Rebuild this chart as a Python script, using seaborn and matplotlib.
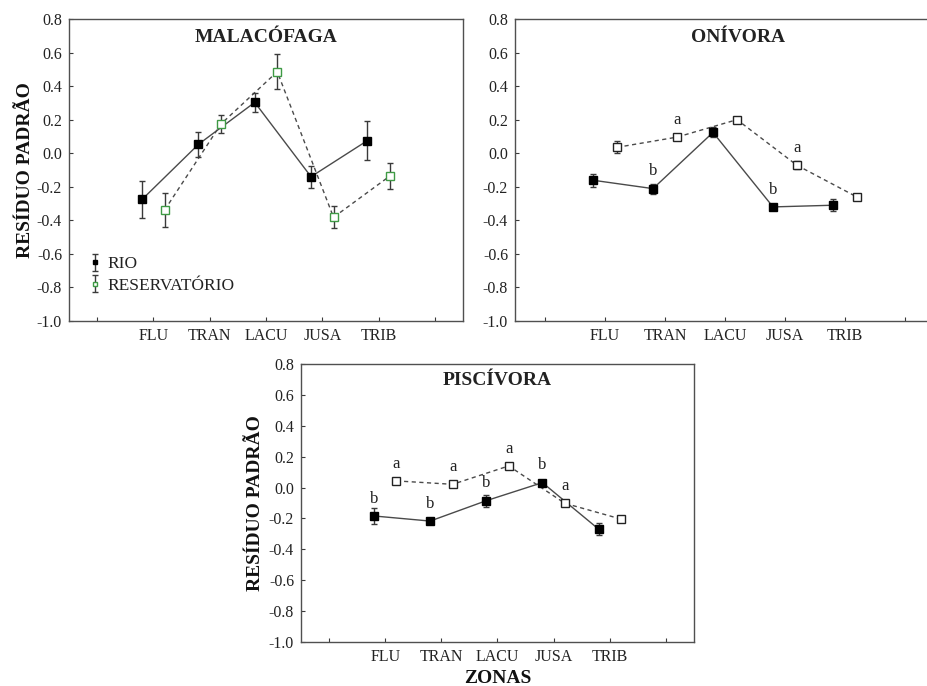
import numpy as np
import pandas as pd
import matplotlib
matplotlib.use("Agg")
import matplotlib.pyplot as plt
import seaborn as sns

# Zones along the reservoir gradient (positions 1..5; 0 and 6 left empty)
zones = ["FLU", "TRAN", "LACU", "JUSA", "TRIB"]
xtick_labels = ["", "FLU", "TRAN", "LACU", "JUSA", "TRIB", ""]
yticks = [-1.0, -0.8, -0.6, -0.4, -0.2, 0.0, 0.2, 0.4, 0.6, 0.8]

# Standardised residuals (mean) and standard errors per trophic guild
mala_rio = [-0.275, 0.053, 0.303, -0.140, 0.075]
mala_rio_err = [0.11, 0.075, 0.057, 0.065, 0.117]
mala_res = [-0.338, 0.174, 0.486, -0.382, -0.136]
mala_res_err = [0.103, 0.055, 0.104, 0.066, 0.077]

oni_rio = [-0.161, -0.211, 0.124, -0.320, -0.310]
oni_rio_err = [0.04, 0.03, 0.03, 0.02, 0.035]
oni_res = [0.035, 0.096, 0.200, -0.072, -0.261]
oni_res_err = [0.035, 0.01, 0.01, 0.025, 0.02]
oni_rio_letters = ["", "b", "", "b", ""]
oni_res_letters = ["", "a", "", "a", ""]

pisc_rio = [-0.184, -0.217, -0.085, 0.032, -0.269]
pisc_rio_err = [0.05, 0.02, 0.04, 0.02, 0.04]
pisc_res = [0.043, 0.021, 0.140, -0.102, -0.204]
pisc_res_err = [0.015, 0.01, 0.01, 0.01, 0.01]
pisc_rio_letters = ["b", "b", "b", "b", ""]
pisc_res_letters = ["a", "a", "a", "a", ""]

sns.set_style("ticks")
plt.rcParams["font.family"] = ["Liberation Serif", "DejaVu Serif"]
plt.rcParams["axes.unicode_minus"] = False

DARK = "#3a3a3a"
LINE = "#4a4a4a"
GREEN = "#3f9a45"

fig = plt.figure(figsize=(9.28, 6.86), dpi=100)
ax1 = fig.add_axes([69 / 928, 1 - 321 / 686, 394 / 928, 302 / 686])
ax2 = fig.add_axes([515 / 928, 1 - 321 / 686, 420 / 928, 302 / 686])
ax3 = fig.add_axes([301 / 928, 1 - 642 / 686, 393 / 928, 278 / 686])

OFFSET = 0.2


def draw_panel(ax, title, rio, rio_err, res, res_err, res_edge,
               rio_letters=None, res_letters=None, title_x=0.5):
    base = np.arange(1, len(zones) + 1)
    df = pd.DataFrame({
        "x": np.concatenate([base - OFFSET, base + OFFSET]),
        "y": rio + res,
        "grupo": ["RIO"] * len(zones) + ["RESERVATÓRIO"] * len(zones),
    })
    d_rio = df[df["grupo"] == "RIO"]
    d_res = df[df["grupo"] == "RESERVATÓRIO"]
    sns.lineplot(data=d_rio, x="x", y="y", ax=ax, color=LINE, lw=1.0,
                 linestyle="-", legend=False, zorder=2)
    sns.lineplot(data=d_res, x="x", y="y", ax=ax, color=LINE, lw=1.0,
                 linestyle=(0, (3, 2.5)), legend=False, zorder=2)
    ax.errorbar(d_rio["x"], d_rio["y"], yerr=rio_err, fmt="s", ms=6,
                mfc="black", mec="black", ecolor=DARK, elinewidth=1,
                capsize=2.5, capthick=1, zorder=3, label="RIO")
    ax.errorbar(d_res["x"], d_res["y"], yerr=res_err, fmt="s", ms=5.5,
                mfc="white", mec=res_edge, mew=1, ecolor=DARK, elinewidth=1,
                capsize=2.5, capthick=1, zorder=3, label="RESERVATÓRIO")

    for letters, xs, ys in ((rio_letters, d_rio["x"], rio),
                            (res_letters, d_res["x"], res)):
        if not letters:
            continue
        for lab, xv, yv in zip(letters, xs, ys):
            if lab:
                ax.annotate(lab, (xv, yv), xytext=(0, 9.5),
                            textcoords="offset points", ha="center",
                            va="baseline", fontsize=12, color="#222222")

    ax.set_xlim(-0.5, 6.5)
    ax.set_ylim(-1.0, 0.8)
    ax.set_xticks(range(7))
    ax.set_xticklabels(xtick_labels)
    ax.set_yticks(yticks)
    ax.set_yticklabels([f"{v:.1f}" for v in yticks])
    ax.tick_params(direction="in", length=3, width=0.8, color=DARK,
                   labelsize=11.5, labelcolor="#222222", pad=5)
    ax.tick_params(axis="x", pad=5)
    for s in ax.spines.values():
        s.set_color("#505050")
        s.set_linewidth(1.0)
        s.set_visible(True)
    ax.set_xlabel("")
    ax.set_ylabel("")
    ax.text(title_x, 0.94, title, transform=ax.transAxes, ha="center",
            va="center", fontsize=14, fontweight="bold", color="#222222")


draw_panel(ax1, "MALACÓFAGA", mala_rio, mala_rio_err, mala_res, mala_res_err,
           GREEN)
draw_panel(ax2, "ONÍVORA", oni_rio, oni_rio_err, oni_res, oni_res_err,
           "#222222", oni_rio_letters, oni_res_letters, title_x=0.53)
draw_panel(ax3, "PISCÍVORA", pisc_rio, pisc_rio_err, pisc_res, pisc_res_err,
           "#222222", pisc_rio_letters, pisc_res_letters)

ax1.set_ylabel("RESÍDUO PADRÃO", fontsize=14, fontweight="bold",
               color="#111111")
ax1.yaxis.set_label_coords(-0.09, 0.5)
ax3.set_ylabel("RESÍDUO PADRÃO", fontsize=14, fontweight="bold",
               color="#111111")
ax3.yaxis.set_label_coords(-0.095, 0.5)

ax3.set_xlabel("ZONAS", fontsize=14, fontweight="bold", color="#111111")
ax3.xaxis.set_label_coords(0.5, -0.102)

leg = ax1.legend(loc="lower left", bbox_to_anchor=(0.02, 0.05), frameon=False,
                 fontsize=12.5, handlelength=0.7, handletextpad=0.35,
                 labelspacing=0.3, markerscale=0.6, borderaxespad=0.3)
for t in leg.get_texts():
    t.set_color("#222222")

fig.savefig("out.png", dpi=100, facecolor="white")
